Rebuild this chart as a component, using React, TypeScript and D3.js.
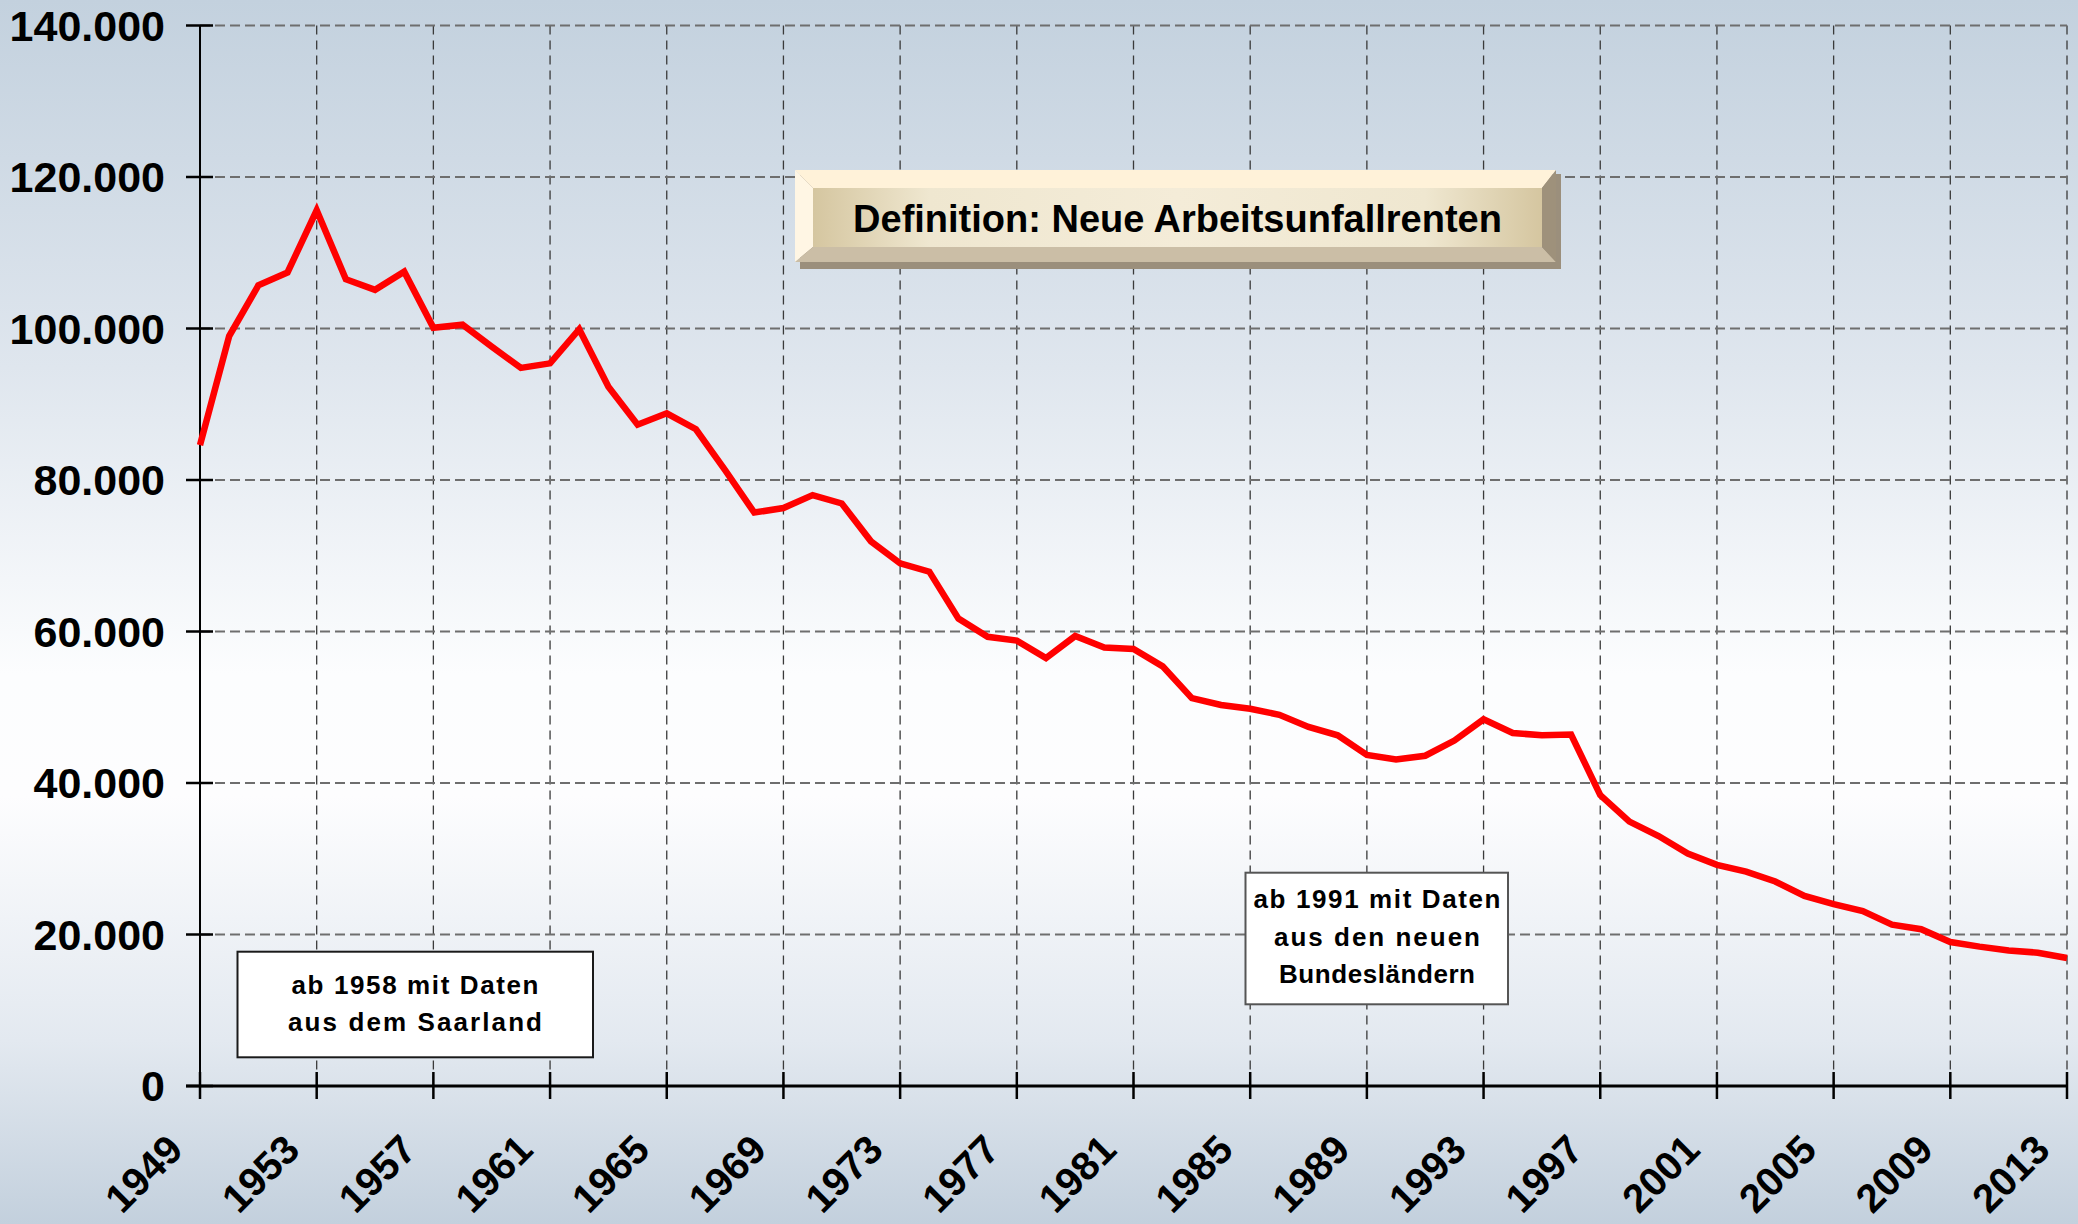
import React from "react";
import * as d3 from "d3";

const years = [
  1949, 1950, 1951, 1952, 1953, 1954, 1955, 1956, 1957, 1958,
  1959, 1960, 1961, 1962, 1963, 1964, 1965, 1966, 1967, 1968,
  1969, 1970, 1971, 1972, 1973, 1974, 1975, 1976, 1977, 1978,
  1979, 1980, 1981, 1982, 1983, 1984, 1985, 1986, 1987, 1988,
  1989, 1990, 1991, 1992, 1993, 1994, 1995, 1996, 1997, 1998,
  1999, 2000, 2001, 2002, 2003, 2004, 2005, 2006, 2007, 2008,
  2009, 2010, 2011, 2012, 2013,
];

const neueRenten = [
  84600, 99000, 105700, 107400, 115600, 106500, 105100, 107500, 100100, 100500,
  97600, 94800, 95400, 99900, 92300, 87300, 88800, 86700, 81300, 75700,
  76300, 78000, 76900, 71900, 69000, 67900, 61700, 59300, 58800, 56500,
  59400, 57900, 57700, 55400, 51200, 50300, 49800, 49000, 47400, 46300,
  43700, 43100, 43600, 45600, 48400, 46600, 46300, 46400, 38400, 34900,
  33000, 30700, 29200, 28300, 27000, 25100, 24000, 23100, 21300, 20700,
  19000, 18400, 17900, 17600, 16900,
];

const xTicks = [1949, 1953, 1957, 1961, 1965, 1969, 1973, 1977, 1981, 1985, 1989, 1993, 1997, 2001, 2005, 2009, 2013];
const yTicks = [0, 20000, 40000, 60000, 80000, 100000, 120000, 140000];

const titleText = "Definition: Neue Arbeitsunfallrenten";
const noteSaarland = ["ab 1958 mit Daten", "aus dem Saarland"];
const noteNeueLaender = ["ab 1991 mit Daten", "aus den neuen", "Bundesländern"];

const deLocale = d3.formatLocale({ decimal: ",", thousands: ".", grouping: [3], currency: ["", " €"] });
const fmt = deLocale.format(",d");

const W = 2078;
const H = 1224;
const FONT = "'Liberation Sans', Arial, Helvetica, sans-serif";

export default function App() {
  const x = d3.scaleLinear().domain([1949, 2013]).range([200, 2067]);
  const y = d3.scaleLinear().domain([0, 140000]).range([1086, 25.5]);
  const line = d3
    .line<number>()
    .x((_, i) => x(years[i]))
    .y((d) => y(d));

  const x0 = x.range()[0];
  const x1 = x.range()[1];
  const yBottom = y(0);
  const yTop = y(140000);

  // Title button geometry
  const bx0 = 795, by0 = 170, bx1 = 1556, by1 = 262;
  const fx0 = 813, fy0 = 188, fx1 = 1542, fy1 = 247;

  return (
    <>
      <style>{`body{margin:0;}`}</style>
      <svg width={W} height={H} style={{ display: "block" }} fontFamily={FONT}>
        <defs>
          <linearGradient id="bg" x1="0" y1="0" x2="0" y2="1">
            <stop offset="0" stopColor="#c3d1de" />
            <stop offset="0.3" stopColor="#dfe6ee" />
            <stop offset="0.55" stopColor="#fcfdfe" />
            <stop offset="0.65" stopColor="#fdfdfe" />
            <stop offset="0.85" stopColor="#e3e9f0" />
            <stop offset="1" stopColor="#c3d0dd" />
          </linearGradient>
          <linearGradient id="face" x1="0" y1="0" x2="1" y2="0">
            <stop offset="0" stopColor="#d5c6a0" />
            <stop offset="0.16" stopColor="#efe7d0" />
            <stop offset="0.5" stopColor="#f4ecd8" />
            <stop offset="0.84" stopColor="#efe7d0" />
            <stop offset="1" stopColor="#d5c6a0" />
          </linearGradient>
        </defs>
        <rect x={0} y={0} width={W} height={H} fill="url(#bg)" />

        {/* vertical grid */}
        {xTicks.slice(1).map((t) => (
          <line
            key={"vg" + t}
            x1={x(t)}
            x2={x(t)}
            y1={yTop}
            y2={yBottom}
            stroke="#3a3a3a"
            strokeWidth={1.3}
            strokeDasharray="9,6"
          />
        ))}
        {/* horizontal grid */}
        {yTicks.slice(1).map((t) => (
          <line
            key={"hg" + t}
            x1={x0}
            x2={x1}
            y1={y(t)}
            y2={y(t)}
            stroke="#6e6e6e"
            strokeWidth={2}
            strokeDasharray="10,5"
          />
        ))}

        {/* axes */}
        <line x1={x0} x2={x0} y1={yTop} y2={yBottom + 13} stroke="#000" strokeWidth={2} />
        <line x1={x0 - 14} x2={x1} y1={yBottom} y2={yBottom} stroke="#000" strokeWidth={3} />
        {yTicks.map((t) => (
          <line key={"yt" + t} x1={x0 - 14} x2={x0 + 13} y1={y(t)} y2={y(t)} stroke="#000" strokeWidth={2.5} />
        ))}
        {xTicks.map((t) => (
          <line key={"xt" + t} x1={x(t)} x2={x(t)} y1={yBottom - 14} y2={yBottom + 13} stroke="#000" strokeWidth={2.5} />
        ))}

        {/* y labels */}
        {yTicks.map((t) => (
          <text
            key={"yl" + t}
            x={165}
            y={y(t)}
            dy="0.36em"
            textAnchor="end"
            fontSize={43}
            fontWeight="bold"
            fill="#000"
          >
            {fmt(t)}
          </text>
        ))}
        {/* x labels */}
        {xTicks.map((t) => (
          <text
            key={"xl" + t}
            transform={`translate(${x(t) - 15},${1152}) rotate(-45)`}
            textAnchor="end"
            fontSize={40}
            fontWeight="bold"
            fill="#000"
          >
            {t}
          </text>
        ))}

        {/* data line */}
        <path
          d={line(neueRenten) || ""}
          fill="none"
          stroke="#ff0000"
          strokeWidth={6.5}
          strokeLinejoin="miter"
        />

        {/* title button */}
        <rect x={bx0 + 5} y={by0 + 4} width={bx1 - bx0} height={by1 - by0 + 3} fill="#9b8f7c" />
        <polygon points={`${bx0},${by0} ${bx1},${by0} ${fx1},${fy0} ${fx0},${fy0}`} fill="#fff2d9" />
        <polygon points={`${bx0},${by0} ${fx0},${fy0} ${fx0},${fy1} ${bx0},${by1}`} fill="#fff6e4" />
        <polygon points={`${bx0},${by1} ${fx0},${fy1} ${fx1},${fy1} ${bx1},${by1}`} fill="#cbbea6" />
        <polygon points={`${bx1},${by0} ${bx1},${by1} ${fx1},${fy1} ${fx1},${fy0}`} fill="#9e917b" />
        <rect x={fx0} y={fy0} width={fx1 - fx0} height={fy1 - fy0} fill="url(#face)" />
        <text x={(fx0 + fx1) / 2} y={231.5} textAnchor="middle" fontSize={38} fontWeight="bold" fill="#000">
          {titleText}
        </text>

        {/* note: Saarland */}
        <rect x={237.5} y={951.7} width={355.5} height={105.6} fill="#fff" stroke="#1a1a1a" strokeWidth={2} />
        {noteSaarland.map((s, i) => (
          <text
            key={"ns" + i}
            x={415}
            y={994 + i * 36.7}
            textAnchor="middle"
            fontSize={26}
            fontWeight="bold"
            fill="#000"
            textLength={i === 0 ? 247 : 254}
            lengthAdjust="spacing"
          >
            {s}
          </text>
        ))}

        {/* note: neue Bundesländer */}
        <rect x={1245.5} y={872.7} width={262.5} height={131.6} fill="#fff" stroke="#555" strokeWidth={2} />
        {noteNeueLaender.map((s, i) => (
          <text
            key={"nl" + i}
            x={1377}
            y={908.3 + i * 37.2}
            textAnchor="middle"
            fontSize={26}
            fontWeight="bold"
            fill="#000"
            textLength={[247, 206, 196][i]}
            lengthAdjust="spacing"
          >
            {s}
          </text>
        ))}
      </svg>
    </>
  );
}
